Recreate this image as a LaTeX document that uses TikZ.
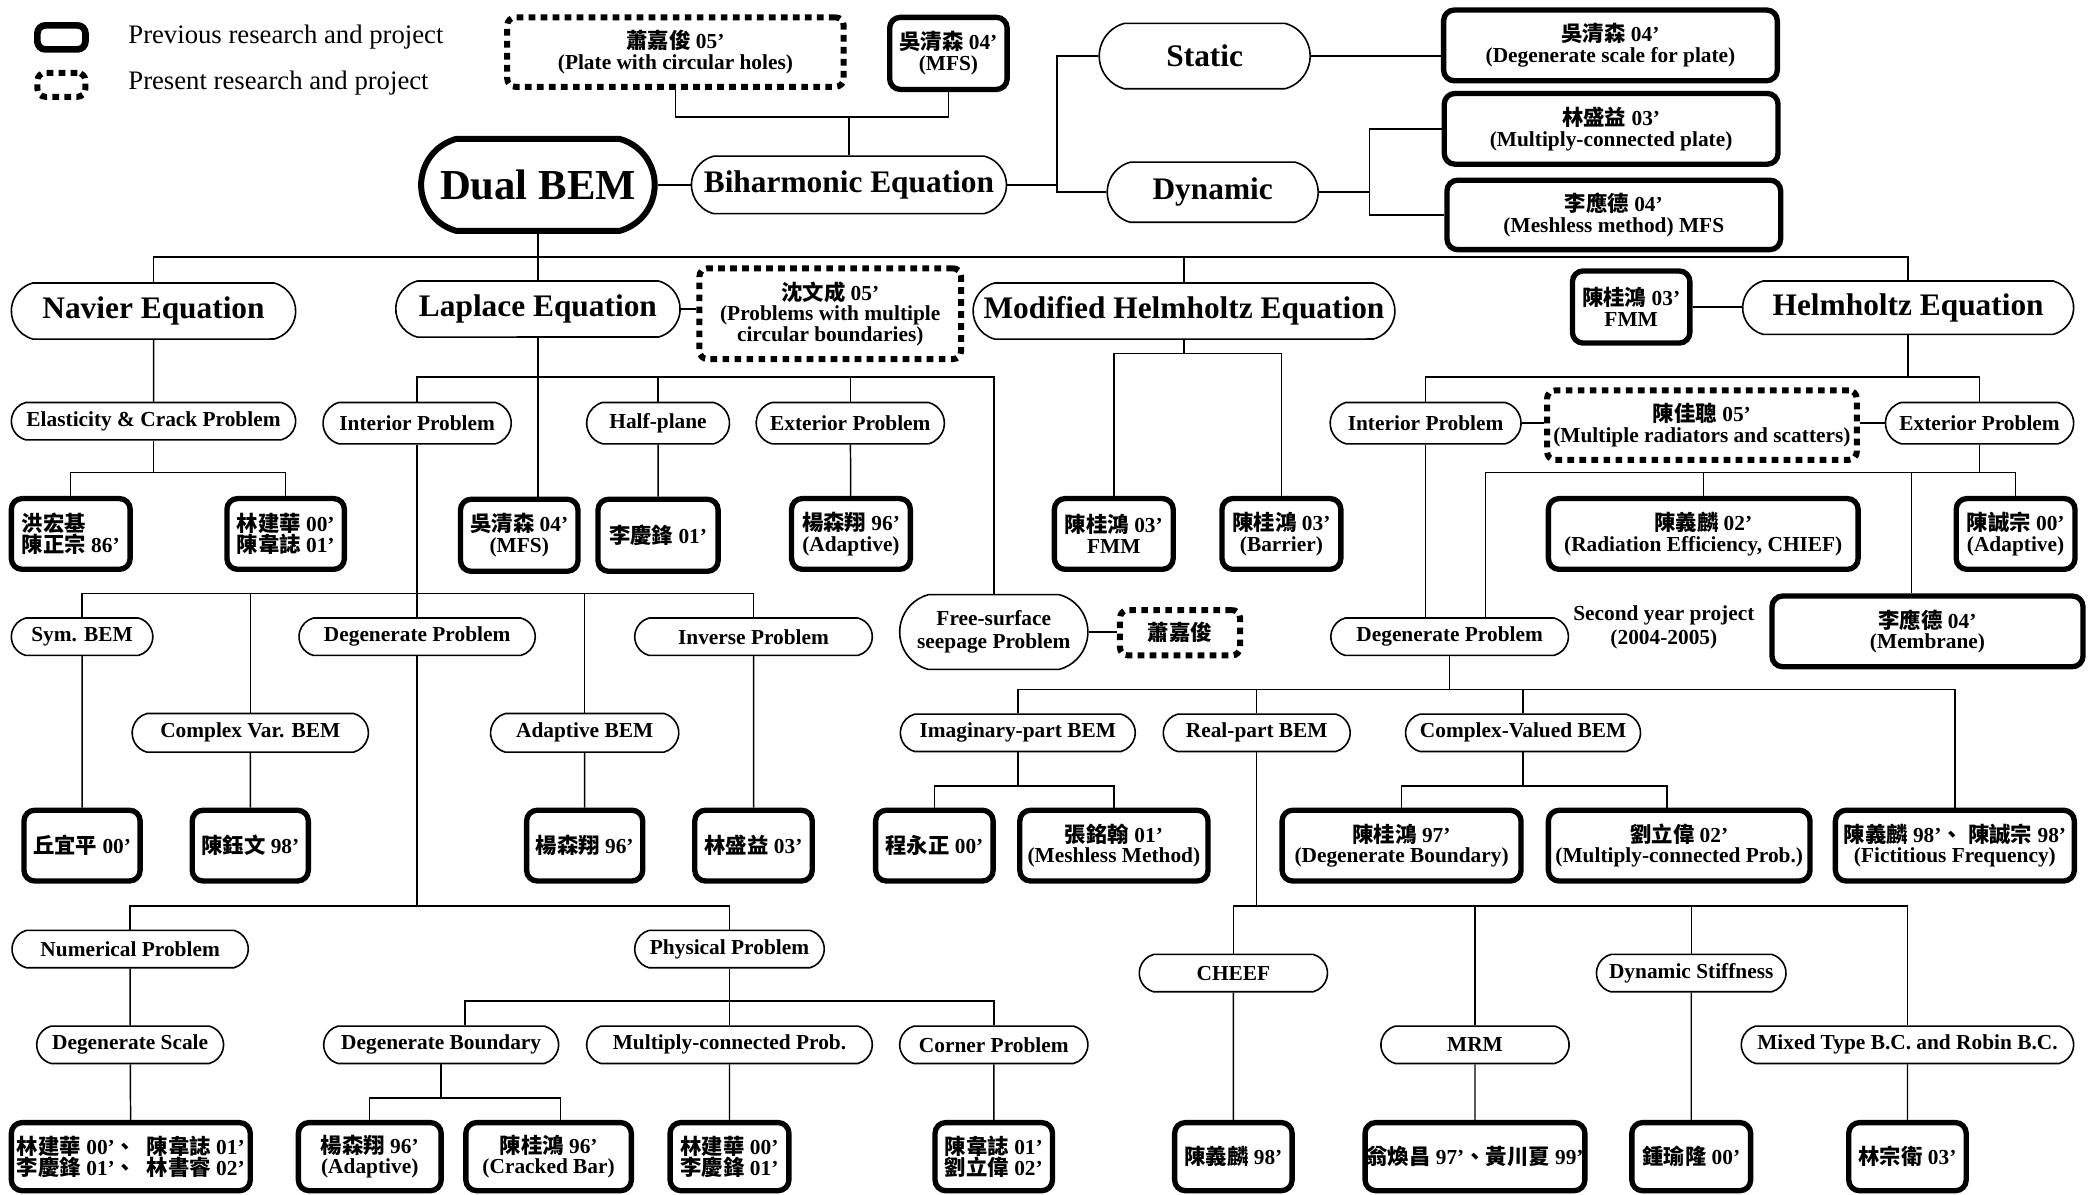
\documentclass[tikz,border=0pt]{standalone}
\usepackage{fontspec}
\setmainfont{Liberation Serif}
\newfontfamily\cjk{Noto Sans CJK TC}
\newcommand{\zh}[1]{{\cjk #1}}
\usetikzlibrary{shapes.misc}

\begin{document}
\begin{tikzpicture}[x=1pt, y=-1pt]
\tikzstyle{topic}=[rounded rectangle, rounded rectangle arc length=150, draw, line width=1.2pt, inner sep=1pt, align=center, font=\bfseries\fontsize{16}{15.5}\selectfont]
\tikzstyle{topicbig}=[topic, font=\bfseries\fontsize{23.5}{24}\selectfont]
\tikzstyle{prev}=[rectangle, draw, line width=4pt, rounded corners=8pt, inner sep=1pt, align=center, font=\bfseries\fontsize{16}{15.5}\selectfont]
\tikzstyle{pres}=[prev, line width=4.5pt, dash pattern=on 5pt off 4pt, rounded corners=6pt]
\tikzstyle{drawstyle}=[line width=1.1pt]
\tikzset{boxsize/.style 2 args={minimum width=#1pt, minimum height=#2pt}}

\useasboundingbox (0,0) rectangle (1568,895);

\node[prev, boxsize={36}{18}, line width=5pt, rounded corners=6pt] (legprev) at (46,28) {};
\node[pres, boxsize={36}{18}] (legpres) at (46,63.5) {};
\node[anchor=west, inner sep=0pt, font=\fontsize{20}{20}\selectfont] (legprevtxt) at (96,27.5) {Previous research and project};
\node[anchor=west, inner sep=0pt, font=\fontsize{20}{20}\selectfont] (legprestxt) at (96,62.5) {Present research and project};

\node[pres, boxsize={252}{52}] (hsiao05) at (506,39) {\zh{蕭嘉俊} 05'\\(Plate with circular holes)};
\node[prev, boxsize={88}{54}] (wu04a) at (710.5,40) {\zh{吳清森} 04'\\(MFS)};
\node[topicbig, boxsize={160}{49}] (static) at (902.5,42) {Static};
\node[prev, boxsize={250}{53}] (wu04b) at (1206.5,34) {\zh{吳清森} 04'\\(Degenerate scale for plate)};
\node[prev, boxsize={250}{53}] (lin03a) at (1207,96.5) {\zh{林盛益} 03'\\(Multiply-connected plate)};
\node[prev, boxsize={250}{52}] (lee04a) at (1209,161) {\zh{李應德} 04'\\(Meshless method) MFS};
\node[topicbig, boxsize={177}{69}, line width=4.5pt, font=\bfseries\fontsize{32}{32}\selectfont] (dual) at (403,138.5) {Dual BEM};
\node[topicbig, boxsize={238}{43}] (bihar) at (636,138.5) {Biharmonic Equation};
\node[topicbig, boxsize={160}{45}] (dynamic) at (908.5,144) {Dynamic};

\coordinate (b1) at (636,87.5);
\draw[drawstyle] (hsiao05.south) |- (b1) -| (wu04a.south);
\draw[drawstyle] (b1) -- (bihar.north);
\draw[drawstyle] (dual.east) -- (bihar.west);
\coordinate (b2) at (792,138.5);
\draw[drawstyle] (bihar.east) -- (b2);
\draw[drawstyle] (static.west) -| (b2) |- (dynamic.west);
\draw[drawstyle] (static.east) -- (static.east -| wu04b.west);
\coordinate (b3) at (1026,144);
\draw[drawstyle] (dynamic.east) -- (b3);
\draw[drawstyle] (lin03a.west) -| (b3) |- (lee04a.west);

\node[topicbig, boxsize={215}{42}] (navier) at (115,233) {Navier Equation};
\node[topicbig, boxsize={215}{42}] (laplace) at (403,231.5) {Laplace Equation};
\node[pres, boxsize={196}{68}] (shen05) at (622,235) {\zh{沈文成} 05'\\(Problems with multiple\\circular boundaries)};
\node[topicbig, boxsize={318}{42}] (modhelm) at (887,233) {Modified Helmholtz Equation};
\node[prev, boxsize={88}{54}] (chen03a) at (1222,230) {\zh{陳桂鴻} 03'\\FMM};
\node[topicbig, boxsize={250}{40}] (helm) at (1429.5,230.5) {Helmholtz Equation};

\coordinate (b0) at (403,192.5);
\draw[drawstyle] (dual.south) -- (laplace.north);
\draw[drawstyle] (navier.north) |- (b0) -| (helm.north);
\draw[drawstyle] (modhelm.north) -- (modhelm.north |- b0);
\draw[drawstyle] (laplace.east) -- (laplace.east -| shen05.west);
\draw[drawstyle] (chen03a.east) -- (chen03a.east -| helm.west);

\node[topic, boxsize={215}{28}] (elastic) at (115,315.5) {Elasticity \& Crack Problem};
\node[topic, boxsize={143}{31}] (lapint) at (312.5,317) {Interior Problem};
\node[topic, boxsize={109}{31}] (halfplane) at (493,317) {Half-plane};
\node[topic, boxsize={143}{31}] (lapext) at (637,317) {Exterior Problem};
\node[topic, boxsize={145}{31}] (helmint) at (1068,317) {Interior Problem};
\node[pres, boxsize={232}{52}] (chen05) at (1275,318.5) {\zh{陳佳聰} 05'\\(Multiple radiators and scatters)};
\node[topic, boxsize={143}{31}] (helmext) at (1483,317) {Exterior Problem};

\coordinate (b4) at (403,282.5);
\draw[drawstyle] (navier) -- (elastic);
\draw[drawstyle] (lapint.north) |- (b4) -| (lapext.north);
\draw[drawstyle] (halfplane.north) -- (halfplane.north |- b4);
\coordinate (b7) at (1429.5,282.5);
\draw[drawstyle] (helm.south) -- (b7);
\draw[drawstyle] (helmint.north) |- (b7) -| (helmext.north);
\draw[drawstyle] (helmint.east) -- (helmint.east -| chen05.west);
\draw[drawstyle] (helmext.west -| chen05.east) -- (helmext.west);

\node[prev, boxsize={89}{53}, align=left] (hong86) at (53,400) {\zh{洪宏基}\\\zh{陳正宗} 86'};
\node[prev, boxsize={88}{53}, align=left] (lin00a) at (214,400) {\zh{林建華} 00'\\\zh{陳韋誌} 01'};
\node[prev, boxsize={88}{54}] (wu04c) at (389,401) {\zh{吳清森} 04'\\(MFS)};
\node[prev, boxsize={90}{54}] (lee01a) at (493,401) {\zh{李慶鋒} 01'};
\node[prev, boxsize={89}{53}] (yang96a) at (637.5,400) {\zh{楊森翔} 96'\\(Adaptive)};
\node[prev, boxsize={89}{53}] (chen03b) at (834.4,400) {\zh{陳桂鴻} 03'\\FMM};
\node[prev, boxsize={89}{53}] (chen03c) at (960,400) {\zh{陳桂鴻} 03'\\(Barrier)};
\node[prev, boxsize={232}{53}] (chen02) at (1276,400) {\zh{陳義麟} 02'\\(Radiation Efficiency, CHIEF)};
\node[prev, boxsize={89}{53}] (chencz00) at (1510,400) {\zh{陳誠宗} 00'\\(Adaptive)};

\draw[drawstyle] (laplace.south) -- (b4) -- (b4 |- wu04c.north);
\coordinate (b5) at (115,354);
\draw[drawstyle] (elastic.south) -- (b5);
\draw[drawstyle] (hong86.north) |- (b5) -| (lin00a.north);
\draw[drawstyle] (halfplane) -- (lee01a);
\draw[drawstyle] (lapext) -- (yang96a);
\coordinate (b6) at (887,265);
\draw[drawstyle] (modhelm.south) -- (b6);
\draw[drawstyle] (chen03b.north) |- (b6) -| (chen03c.north);

\node[topic, boxsize={108}{28}] (sym) at (61.5,477) {Sym. BEM};
\node[topic, boxsize={179}{28}] (lapdeg) at (312.5,477) {Degenerate Problem};
\node[topic, boxsize={180}{28}] (inverse) at (564.5,477) {Inverse Problem};
\node[topic, boxsize={143}{56}] (freesurf) at (744.5,473.5) {Free-surface\\[2pt]seepage Problem};
\node[pres, boxsize={90}{34}] (hsiao) at (884,474) {\zh{蕭嘉俊}};
\node[topic, boxsize={180}{28}] (helmdeg) at (1086,477) {Degenerate Problem};
\node[font=\bfseries\fontsize{16}{17.5}\selectfont, align=center] (second) at (1246.5,470) {Second year project\\(2004-2005)};
\node[prev, boxsize={233}{53}] (lee04b) at (1444,473) {\zh{李應德} 04'\\(Membrane)};

\draw[drawstyle] (b4) -| (freesurf.north);
\draw[drawstyle] (freesurf.east) -- (freesurf.east -| hsiao.west);
\coordinate (b8) at (1113,354);
\coordinate (b9) at (1432,354);
\draw[drawstyle] (helmext.south) -- (helmext.south |- b8);
\draw[drawstyle] (helmdeg.north -| b8) -- (b8) -| (chencz00.north);
\draw[drawstyle] (chen02.north) -- (chen02.north |- b8);
\draw[drawstyle] (b9) -- (b9 |- lee04b.north);
\draw[drawstyle] (helmint.south) -- (helmint.south |- helmdeg.north);
\coordinate (b10) at (312.5,444.7);
\draw[drawstyle] (lapint.south) -- (lapdeg.north);

\node[topic, boxsize={179}{29}] (cvbem) at (187.5,549) {Complex Var. BEM};
\node[topic, boxsize={143}{29}] (adaptbem) at (438,549) {Adaptive BEM};
\node[topic, boxsize={178}{28}] (imag) at (762.5,549) {Imaginary-part BEM};
\node[topic, boxsize={142}{28}] (real) at (941.5,549) {Real-part BEM};
\node[topic, boxsize={178}{28}] (cvalued) at (1141,549) {Complex-Valued BEM};

\draw[drawstyle] (sym.north) |- (b10) -| (inverse.north);
\draw[drawstyle] (cvbem.north) -- (cvbem.north |- b10);
\draw[drawstyle] (adaptbem.north) -- (adaptbem.north |- b10);
\coordinate (b11) at (1086,516.7);
\draw[drawstyle] (helmdeg.south) -- (b11);
\draw[drawstyle] (real.north) -- (real.north |- b11);
\draw[drawstyle] (cvalued.north) -- (cvalued.north |- b11);

\node[prev, boxsize={87}{53}] (chiu00) at (61.5,633.5) {\zh{丘宜平} 00'};
\node[prev, boxsize={87}{53}] (chenyw98) at (187.5,633.5) {\zh{陳鈺文} 98'};
\node[prev, boxsize={87}{53}] (yang96b) at (438,633.5) {\zh{楊森翔} 96'};
\node[prev, boxsize={88}{53}] (lin03b) at (564.5,633.5) {\zh{林盛益} 03'};
\node[prev, boxsize={88}{53}] (cheng00) at (700,633.5) {\zh{程永正} 00'};
\node[prev, boxsize={141}{53}] (chang01) at (834.5,633.5) {\zh{張銘翰} 01'\\(Meshless Method)};
\node[prev, boxsize={179}{53}] (chen97) at (1050,633.5) {\zh{陳桂鴻} 97'\\(Degenerate Boundary)};
\node[prev, boxsize={196}{53}] (liu02a) at (1258,633.5) {\zh{劉立偉} 02'\\(Multiply-connected Prob.)};
\node[prev, boxsize={179}{53}] (fict) at (1464.5,633.5) {\zh{陳義麟} 98'\zh{、} \zh{陳誠宗} 98'\\(Fictitious Frequency)};

\draw[drawstyle] (imag.north) |- (b11) -| (fict.north);
\draw[drawstyle] (sym) -- (chiu00);
\draw[drawstyle] (cvbem) -- (chenyw98);
\draw[drawstyle] (adaptbem) -- (yang96b);
\draw[drawstyle] (inverse) -- (lin03b);
\coordinate (b12) at (762.5,589);
\draw[drawstyle] (imag.south) -- (b12);
\draw[drawstyle] (cheng00.north) |- (b12) -| (chang01.north);
\coordinate (b13) at (1141,589);
\coordinate (b14) at (1249,589);
\draw[drawstyle] (cvalued.south) -- (b13);
\draw[drawstyle] (chen97.north) |- (b13) -- (b14) -- (b14 |- liu02a.north);

\node[topic, boxsize={179}{28}] (numer) at (97.5,711) {Numerical Problem};
\node[topic, boxsize={144}{28}] (phys) at (546.5,711) {Physical Problem};
\node[topic, boxsize={143}{28}] (cheef) at (924,729) {CHEEF};
\node[topic, boxsize={144}{28}] (dynstiff) at (1267,729) {Dynamic Stiffness};

\coordinate (b15) at (312.5,678.8);
\draw[drawstyle] (lapdeg.south) -- (b15);
\draw[drawstyle] (numer.north) |- (b15) -| (phys.north);
\coordinate (b16) at (941.5,678.8);
\draw[drawstyle] (real.south) -- (b16);

\node[topic, boxsize={142}{28}] (degscale) at (97.5,782.7) {Degenerate Scale};
\node[topic, boxsize={178}{28}] (degbound) at (330.5,782.7) {Degenerate Boundary};
\node[topic, boxsize={216}{28}] (multconn) at (546.5,782.7) {Multiply-connected Prob.};
\node[topic, boxsize={143}{28}] (corner) at (744.5,782.7) {Corner Problem};
\node[topic, boxsize={143}{28}] (mrm) at (1105,782.7) {MRM};
\node[topic, boxsize={251}{28}] (mixed) at (1429,782.7) {Mixed Type B.C. and Robin B.C.};

\draw[drawstyle] (cheef.north) |- (b16) -| (mixed.north);
\draw[drawstyle] (mrm.north) -- (mrm.north |- b16);
\draw[drawstyle] (dynstiff.north) -- (dynstiff.north |- b16);
\draw[drawstyle] (numer) -- (degscale);
\coordinate (b17) at (348.3,750);
\draw[drawstyle] (phys.south) -- (multconn.north);
\draw[drawstyle] (b17 |- degbound.north) -- (b17) -| (corner.north);

\node[prev, boxsize={179}{51}] (linx) at (98,866.5) {\zh{林建華} 00'\zh{、}\ \ \zh{陳韋誌} 01'\\\zh{李慶鋒} 01'\zh{、}\ \ \zh{林書睿} 02'};
\node[prev, boxsize={107}{51}] (yang96c) at (277,866.5) {\zh{楊森翔} 96'\\(Adaptive)};
\node[prev, boxsize={124}{51}] (chen96) at (411,866.5) {\zh{陳桂鴻} 96'\\(Cracked Bar)};
\node[prev, boxsize={89}{51}, align=left] (lin00b) at (546.5,866.5) {\zh{林建華} 00'\\\zh{李慶鋒} 01'};
\node[prev, boxsize={88}{51}, align=left] (chenlw) at (744.5,866.5) {\zh{陳韋誌} 01'\\\zh{劉立偉} 02'};
\node[prev, boxsize={88}{51}] (chen98) at (924,866.5) {\zh{陳義麟} 98'};
\node[prev, boxsize={161}{51}] (weng) at (1105,866.5) {\zh{翁煥昌} 97'\zh{、黃川夏} 99'};
\node[prev, boxsize={89}{51}] (chung00) at (1267,866.5) {\zh{鍾瑜隆} 00'};
\node[prev, boxsize={88}{51}] (lin03c) at (1429,866.5) {\zh{林宗衛} 03'};

\draw[drawstyle] (degscale) -- (linx);
\coordinate (b18) at (330.5,822.5);
\coordinate (b19) at (420,822.5);
\draw[drawstyle] (degbound.south) -- (b18);
\draw[drawstyle] (yang96c.north) |- (b19) -- (b19 |- chen96.north);
\draw[drawstyle] (multconn) -- (lin00b);
\draw[drawstyle] (corner) -- (chenlw);
\draw[drawstyle] (cheef) -- (chen98);
\draw[drawstyle] (mrm) -- (weng);
\draw[drawstyle] (dynstiff) -- (chung00);
\draw[drawstyle] (mixed) -- (lin03c);
\end{tikzpicture}
\end{document}
